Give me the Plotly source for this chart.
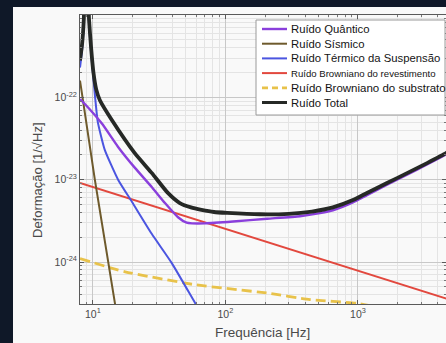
import plotly.graph_objects as go

# ---------------- data ----------------
freq_quantum = [8.0, 8.7, 11.7, 15.5, 20.7, 27.9, 35.0, 43.9, 51.0, 56.0, 70.0, 114, 206, 365, 517,
                647, 916, 1169, 1656, 2345, 3320, 4613, 5000]
strain_quantum = [9.5e-23, 8.3e-23, 4.8e-23, 2.5e-23, 1.4e-23, 8.1e-24, 5.2e-24, 3.5e-24, 3.0e-24,
                  2.95e-24, 2.95e-24, 3.1e-24, 3.35e-24, 3.6e-24, 3.93e-24,
                  4.25e-24, 5.3e-24, 6.5e-24, 8.7e-24, 1.15e-23, 1.53e-23, 2.03e-23, 2.2e-23]

freq_seismic = [8.0, 10.35, 14.7, 16.0]
strain_seismic = [1.6e-22, 1.0e-23, 3.1e-25, 1.3e-25]

freq_suspension = [8.0, 8.3, 8.55, 8.75, 9.05, 9.35, 9.7, 10.1, 10.4, 10.9, 12.3, 15.5, 19.7,
                   27.8, 39.4, 58.9, 70.0]
strain_suspension = [2.3e-22, 3.8e-22, 8e-22, 3e-21, 3e-21, 8e-22, 3.5e-22, 1.7e-22, 1.0e-22,
                     5.0e-23, 2.3e-23, 1.0e-23, 5.4e-24, 2.2e-24, 9.7e-25, 3.2e-25, 2.0e-25]

freq_coating = [8.0, 5000]
strain_coating = [9.1e-24, 3.46e-25]

freq_substrate = [8.0, 17.5, 58.9, 206, 434, 980, 1300]
strain_substrate = [1.1e-24, 7.6e-25, 5.3e-25, 4.2e-25, 3.5e-25, 3.15e-25, 2.9e-25]

freq_total = [8.0, 8.3, 8.55, 8.75, 9.05, 9.35, 9.7, 10.1, 10.6, 11.3, 13.9, 20.7, 27.9, 36.8,
              45.3, 55.0, 66.0, 82.0, 103, 182, 300, 450, 647, 916, 1169, 1656, 2345, 3320, 4613, 5000]
strain_total = [2.8e-22, 4.5e-22, 9e-22, 3e-21, 3e-21, 9e-22, 4e-22, 2.0e-22, 1.25e-22, 9.2e-23,
                5.3e-23, 2.1e-23, 1.2e-23, 6.9e-24, 5.2e-24, 4.6e-24, 4.3e-24, 4.05e-24, 3.95e-24,
                3.8e-24, 3.85e-24, 4.1e-24, 4.6e-24, 5.65e-24, 6.9e-24, 9.1e-24, 1.2e-23, 1.59e-23,
                2.1e-23, 2.3e-23]

series_names = ["Ruído Quântico", "Ruído Sísmico", "Ruído Térmico da Suspensão",
                "Ruído Browniano do revestimento", "Ruído Browniano do substrato", "Ruído Total"]

x_tick_vals = [10, 100, 1000]
x_tick_text = ["10<sup>1</sup>", "10<sup>2</sup>", "10<sup>3</sup>"]
y_tick_vals = [1e-24, 1e-23, 1e-22]
y_tick_text = ["10<sup>-24</sup>", "10<sup>-23</sup>", "10<sup>-22</sup>"]

x_title = "Frequência [Hz]"
y_title = "Deformação [1/√Hz]"

# ---------------- styles ----------------
colors = ["#8a3fdc", "#6e5a2c", "#4b55e0", "#e2483e", "#e8c24a", "#262926"]
widths = [2.4, 2.0, 2.0, 2.0, 2.8, 3.8]
dashes = ["solid", "solid", "solid", "solid", "10px,5px", "solid"]
shapes_line = ["spline", "linear", "spline", "linear", "spline", "spline"]
legend_sizes = [11.3, 11.3, 11.3, 9.6, 11.5, 11.3]

xs = [freq_quantum, freq_seismic, freq_suspension, freq_coating, freq_substrate, freq_total]
ys = [strain_quantum, strain_seismic, strain_suspension, strain_coating, strain_substrate, strain_total]

W, H = 446, 343
ML, MR, MT, MB = 80, 0, 15, 39
PW, PH = W - ML - MR, H - MT - MB
DARK = "#0f1828"

def px(xp):
    return (xp - ML) / PW

def py(yp):
    return (H - MB - yp) / PH

fig = go.Figure()
order = [4, 3, 1, 2, 0, 5]
for i in order:
    fig.add_trace(go.Scatter(
        x=xs[i], y=ys[i], mode="lines", name=series_names[i], showlegend=False,
        line=dict(color=colors[i], width=widths[i], dash=dashes[i],
                  shape=shapes_line[i], smoothing=0.5),
    ))

font_family = "Liberation Sans, Arial, sans-serif"

axis_common = dict(
    type="log", showline=True, linecolor="#5a5a5a", linewidth=1, mirror="ticks",
    ticks="inside", ticklen=4, tickcolor="#5a5a5a", showgrid=True, gridcolor="#c8c8c8",
    gridwidth=1, zeroline=False, tickmode="array",
    tickfont=dict(family=font_family, size=10.5, color="#4a4a4a"),
    minor=dict(ticks="inside", ticklen=2, tickcolor="#777777", showgrid=True,
               gridcolor="#e4e4e4", gridwidth=1, dtick="D1"),
)

fig.update_layout(
    width=W, height=H,
    margin=dict(l=ML, r=MR, t=MT, b=MB, pad=0),
    paper_bgcolor=DARK,
    plot_bgcolor="#ffffff",
    showlegend=False,
    xaxis=dict(axis_common, range=[0.903, 3.664], tickvals=x_tick_vals, ticktext=x_tick_text),
    yaxis=dict(axis_common, range=[-24.51, -21.0], tickvals=y_tick_vals, ticktext=y_tick_text),
    font=dict(family=font_family),
)

shapes = []
# white figure panel
shapes.append(dict(type="rect", xref="paper", yref="paper", layer="below",
                   x0=px(13), x1=px(W + 5), y0=py(H + 5), y1=py(7),
                   fillcolor="#f9f9f9", line=dict(width=0)))

# legend box
lx0, lx1, ly0, ly1 = 256, 445, 20, 115
shapes.append(dict(type="rect", xref="paper", yref="paper", layer="above",
                   x0=px(lx0), x1=px(lx1), y0=py(ly1), y1=py(ly0),
                   fillcolor="#ffffff", line=dict(color="#9a9a9a", width=1)))
annotations = []
row0, row_step = 29, 14.7
for k in range(6):
    ry = row0 + row_step * k
    shapes.append(dict(type="line", xref="paper", yref="paper", layer="above",
                       x0=px(262), x1=px(287), y0=py(ry), y1=py(ry),
                       line=dict(color=colors[k], width=min(widths[k], 3.0),
                                 dash="6px,4px" if dashes[k] != "solid" else "solid")))
    annotations.append(dict(xref="paper", yref="paper", x=px(289), y=py(ry),
                            xanchor="left", yanchor="middle", showarrow=False,
                            text=series_names[k],
                            font=dict(family=font_family, size=legend_sizes[k], color="#141414")))

# axis titles
annotations.append(dict(xref="paper", yref="paper", x=px(262), y=py(332),
                        xanchor="center", yanchor="middle", showarrow=False, text=x_title,
                        font=dict(family=font_family, size=13.5, color="#4a4a4a")))
annotations.append(dict(xref="paper", yref="paper", x=px(37), y=py(180),
                        xanchor="center", yanchor="middle", showarrow=False, text=y_title,
                        textangle=-90,
                        font=dict(family=font_family, size=13, color="#4a4a4a")))

fig.update_layout(shapes=shapes, annotations=annotations)

fig.write_html(
    "out.html",
    config={"displayModeBar": False},
    post_script="document.body.style.margin='0px';document.body.style.background='%s';" % DARK,
)
